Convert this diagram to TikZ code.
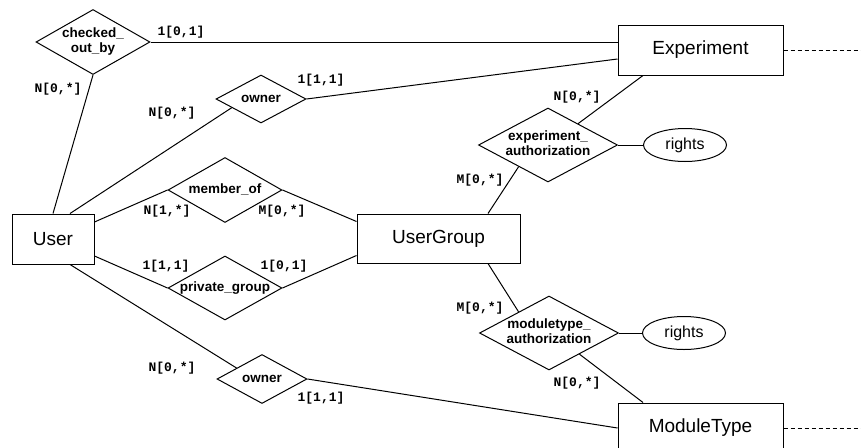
\documentclass[tikz,border=0pt]{standalone}
\usepackage{fontspec}
\setmainfont{Liberation Sans}
\newfontfamily\lblfont{Liberation Mono}
\usetikzlibrary{shapes.geometric,calc}
\newcommand{\dtext}[1]{\makebox[0pt]{\begin{tabular}{@{}c@{}}#1\end{tabular}}}
\tikzset{
  ent/.style={draw, line width=1pt, rectangle, inner sep=0pt, minimum width=165pt, minimum height=50pt, font=\fontsize{19}{22}\selectfont},
  rel/.style={draw, line width=1pt, diamond, inner sep=0pt, aspect=1.8, font=\fontsize{13.5}{15}\selectfont\bfseries},
  attr/.style={draw, line width=1pt, ellipse, inner sep=0pt, minimum width=83pt, minimum height=33pt, font=\fontsize{16}{18}\selectfont},
  card/.style={font=\fontsize{13}{15}\selectfont\lblfont\bfseries, inner sep=0pt},
  conn/.style={line width=1pt},
  ext/.style={line width=1pt, dash pattern=on 4pt off 3pt}
}
\begin{document}
\begin{tikzpicture}[x=1pt,y=-1pt]
\useasboundingbox (0,0) rectangle (861,447);
\clip (0,0) rectangle (861,447);
\fill[white] (0,0) rectangle (861,447);
% entities
\node[ent] (exp) at (700.5,50) {Experiment};
\node[ent] (mt) at (700.5,428) {ModuleType};
\node[ent, minimum width=82pt] (user) at (53,239) {User};
\node[ent, minimum width=163pt, minimum height=49pt] (ug) at (438.5,238.5) {UserGroup};
% relationships
\node[rel, minimum width=114pt, minimum height=65pt] (cob) at (93,42) {\dtext{checked\_\\out\_by}};
\node[rel, minimum width=90pt, minimum height=48pt] (o1) at (261,99) {\dtext{owner}};
\node[rel, minimum width=114pt, minimum height=65pt] (mem) at (225,190) {\dtext{member\_of}};
\node[rel, minimum width=114pt, minimum height=64pt] (priv) at (225,288) {\dtext{private\_group}};
\node[rel, minimum width=90pt, minimum height=49pt] (o2) at (262,379) {\dtext{owner}};
\node[rel, minimum width=139pt, minimum height=74pt] (ea) at (548,145) {\dtext{experiment\_\\authorization}};
\node[rel, minimum width=139pt, minimum height=74pt] (ma) at (549,333) {\dtext{moduletype\_\\authorization}};
% attributes
\node[attr] (r1) at (685,145) {rights};
\node[attr] (r2) at (684,333) {rights};
% outside coordinates
\coordinate (expout) at (861,50);
\coordinate (mtout) at (861,428);
% connectors
\draw[conn] (cob.east) -- ([yshift=8pt]exp.west);
\draw[conn] (o1.east) -- ([yshift=-9pt]exp.west);
\draw[conn] (cob.south) -- (user.north);
\draw[conn] ([xshift=17pt]user.north) -- ($(o1.west)!0.356!(o1.south)$);
\draw[conn] ([yshift=17pt]user.east) -- (mem.west);
\draw[conn] (mem.east) -- ([yshift=17pt]ug.west);
\draw[conn] ([yshift=-17pt]user.east) -- (priv.west);
\draw[conn] (priv.east) -- ([yshift=-17pt]ug.west);
\draw[conn] ([xshift=17pt]user.south) -- ($(o2.west)!0.44!(o2.north)$);
\draw[conn] (o2.east) -- (mt.west);
\draw[conn] ([xshift=-57.5pt]exp.south) -- ($(ea.north)!0.43!(ea.east)$);
\draw[conn] ([xshift=49.5pt]ug.north) -- ($(ea.west)!0.58!(ea.south)$);
\draw[conn] (ea.east) -- (r1.west);
\draw[conn] ([xshift=49.5pt]ug.south) -- ($(ma.west)!0.565!(ma.north)$);
\draw[conn] ($(ma.east)!0.565!(ma.south)$) -- ([xshift=-57.5pt]mt.north);
\draw[conn] (ma.east) -- (r2.west);
\draw[ext] (exp.east) -- (expout);
\draw[ext] (mt.east) -- (mtout);
% cardinalities
\node[card] (c1) at (181,32) {1[0,1]};
\node[card] (c2) at (58,89) {N[0,*]};
\node[card] (c3) at (321,80) {1[1,1]};
\node[card] (c4) at (172,113) {N[0,*]};
\node[card] (c5) at (167,211) {N[1,*]};
\node[card] (c6) at (282,211) {M[0,*]};
\node[card] (c7) at (166,266) {1[1,1]};
\node[card] (c8) at (284,266) {1[0,1]};
\node[card] (c9) at (577,97) {N[0,*]};
\node[card] (c10) at (480,180) {M[0,*]};
\node[card] (c11) at (480,308) {M[0,*]};
\node[card] (c12) at (577,383) {N[0,*]};
\node[card] (c13) at (172,368) {N[0,*]};
\node[card] (c14) at (321,398) {1[1,1]};
\end{tikzpicture}
\end{document}
